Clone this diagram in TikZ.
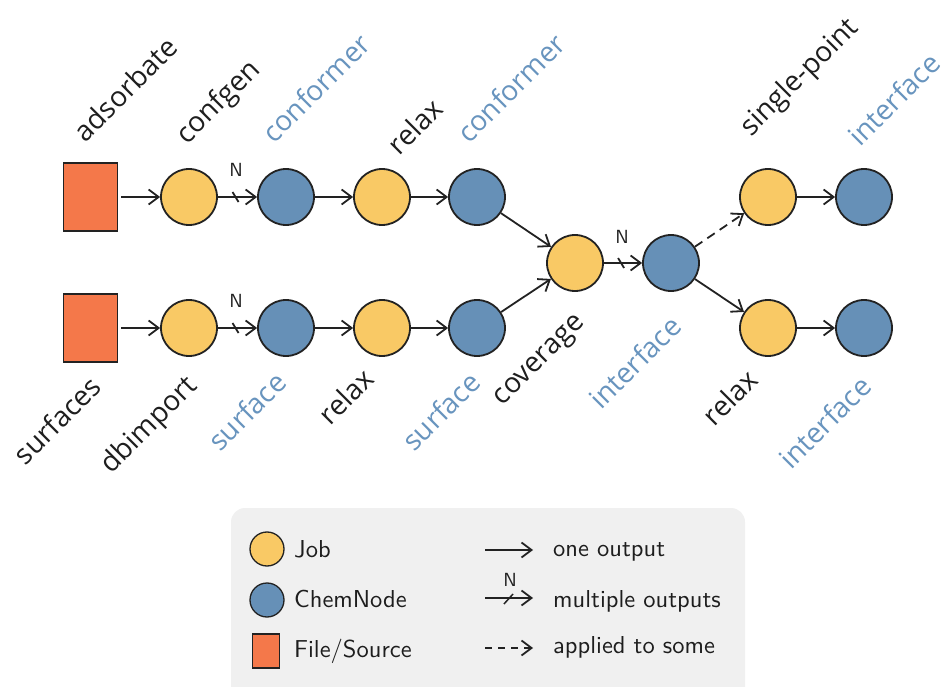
\documentclass[tikz,border=0pt]{standalone}
\usepackage{fontspec}
\newfontfamily\lblfont{Open Sans}
\newfontfamily\legfont{lmsans10-regular.otf}
\usetikzlibrary{arrows.meta}

\definecolor{jobc}{RGB}{249,201,101}
\definecolor{chemc}{RGB}{102,144,183}
\definecolor{srcc}{RGB}{244,120,74}
\definecolor{edgec}{RGB}{34,34,34}
\definecolor{tblue}{RGB}{104,148,190}
\definecolor{tdark}{RGB}{30,30,30}
\definecolor{legbg}{RGB}{240,240,240}

\tikzset{
  jobnode/.style={circle,draw=edgec,line width=1.8pt,fill=jobc,minimum size=56pt,inner sep=0pt},
  chemnode/.style={circle,draw=edgec,line width=1.8pt,fill=chemc,minimum size=56pt,inner sep=0pt},
  srcnode/.style={rectangle,draw=edgec,line width=1.8pt,fill=srcc,minimum width=54pt,minimum height=68pt,inner sep=0pt},
  steplbl/.style={font=\lblfont\fontsize{28}{34}\selectfont,rotate=45,anchor=center,inner sep=0pt,text=tdark},
  datalbl/.style={steplbl,text=tblue},
  flow/.style={draw=edgec,line width=1.8pt,-{Straight Barb[length=10pt,width=15pt]}},
  someflow/.style={flow,dash pattern=on 9pt off 6pt},
  tickline/.style={draw=edgec,line width=1.8pt},
  nlbl/.style={font=\legfont\fontsize{19}{23}\selectfont,text=tdark,inner sep=0pt},
  legjob/.style={jobnode,minimum size=34pt,line width=1.3pt},
  legchem/.style={chemnode,minimum size=34pt,line width=1.3pt},
  legsrc/.style={srcnode,minimum width=27pt,minimum height=34pt,line width=1.3pt},
  legtext/.style={font=\legfont\fontsize{24.5}{29}\selectfont,text=tdark,anchor=base west,inner sep=0pt},
}

\begin{document}
\begin{tikzpicture}[x=1pt,y=-1pt]
\useasboundingbox (0,0) rectangle (946,687);

% legend panel
\fill[legbg,rounded corners=14pt] (231,508) rectangle (745,710);

% top branch: adsorbate conformers
\node[srcnode]  (s1) at (90.5,197) {};
\node[jobnode]  (j1) at (189,197) {};
\node[chemnode] (c1) at (286,197) {};
\node[jobnode]  (j2) at (382,197) {};
\node[chemnode] (c2) at (477,197) {};

% bottom branch: surfaces
\node[srcnode]  (s2) at (90.5,328) {};
\node[jobnode]  (j3) at (189,328) {};
\node[chemnode] (c3) at (286,328) {};
\node[jobnode]  (j4) at (382,328) {};
\node[chemnode] (c4) at (477,328) {};

% merge and final steps
\node[jobnode]  (j5) at (575,263) {};
\node[chemnode] (c5) at (671,263) {};
\node[jobnode]  (j6) at (768,197) {};
\node[chemnode] (c6) at (864,197) {};
\node[jobnode]  (j7) at (768,328) {};
\node[chemnode] (c7) at (864,328) {};

% connectors
\draw[flow,shorten <=3pt] (s1) -- (j1);
\draw[flow] (j1) -- coordinate[pos=0.45] (m1) (c1);
\draw[flow] (c1) -- (j2);
\draw[flow] (j2) -- (c2);
\draw[flow] (c2) -- (j5);
\draw[flow,shorten <=3pt] (s2) -- (j3);
\draw[flow] (j3) -- coordinate[pos=0.45] (m2) (c3);
\draw[flow] (c3) -- (j4);
\draw[flow] (j4) -- (c4);
\draw[flow] (c4) -- (j5);
\draw[flow] (j5) -- coordinate[pos=0.45] (m3) (c5);
\draw[someflow] (c5) -- (j6);
\draw[flow] (j6) -- (c6);
\draw[flow] (c5) -- (j7);
\draw[flow] (j7) -- (c7);

% "multiple outputs" ticks
\draw[tickline] (m1) ++(-3,-5) -- ++(6,10);
\draw[tickline] (m2) ++(-3,-5) -- ++(6,10);
\draw[tickline] (m3) ++(-3,-5) -- ++(6,10);
\node[nlbl] (n1) at (236,170) {N};
\node[nlbl] (n2) at (236,301) {N};
\node[nlbl] (n3) at (622,237) {N};

% labels above the top row
\node[steplbl] (la) at (125,89)  {adsorbate};
\node[steplbl] (lb) at (219,103) {confgen};
\node[datalbl] (lc) at (316,88)  {conformer};
\node[steplbl] (ld) at (415,126) {relax};
\node[datalbl] (le) at (511,88)  {conformer};
\node[steplbl] (lf) at (800,78)  {single-point};
\node[datalbl] (lg) at (894,99)  {interface};

% labels below the bottom row
\node[steplbl] (lh) at (57,420)  {surfaces};
\node[steplbl] (li) at (150,426) {dbimport};
\node[datalbl] (lj) at (247,411) {surface};
\node[steplbl] (lk) at (346,396) {relax};
\node[datalbl] (ll) at (441,411) {surface};
\node[steplbl] (lm) at (541,362) {coverage};
\node[datalbl] (ln) at (635,362) {interface};
\node[steplbl] (lo) at (730,397) {relax};
\node[datalbl] (lp) at (825,422) {interface};

% legend: node kinds
\node[legjob]  (kj) at (267,549) {};
\node[legchem] (kc) at (267,600) {};
\node[legsrc]  (ks) at (266,651) {};
\node[legtext] (tj) at (294,557) {Job};
\node[legtext] (tc) at (294,607) {ChemNode};
\node[legtext] (ts) at (294,657) {File/Source};

% legend: connector kinds
\coordinate (a1) at (485,550);
\coordinate (b1) at (533,550);
\coordinate (a2) at (485,598);
\coordinate (b2) at (533,598);
\coordinate (a3) at (485,648);
\coordinate (b3) at (533,648);
\draw[flow] (a1) -- (b1);
\draw[flow] (a2) -- (b2);
\draw[someflow,dash pattern=on 7pt off 6pt] (a3) -- (b3);
\coordinate (k2) at (508,599);
\draw[tickline,line width=1.5pt] (k2) ++(-4,5) -- ++(9,-10);
\node[nlbl] (nk) at (510,580) {N};
\node[legtext] (to) at (553,556) {one output};
\node[legtext] (tm) at (553,607) {multiple outputs};
\node[legtext] (ta) at (553,653) {applied to some};
\end{tikzpicture}
\end{document}
